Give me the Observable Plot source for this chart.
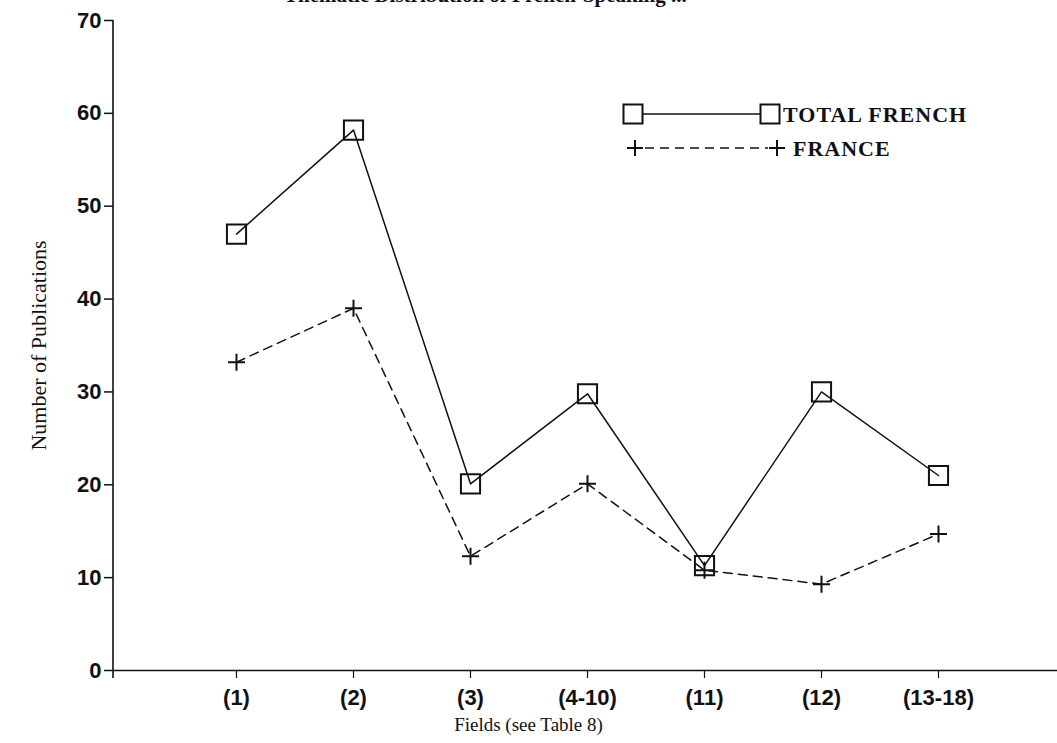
<!DOCTYPE html>
<html>
<head>
<meta charset="utf-8">
<script src="https://cdn.jsdelivr.net/npm/d3@7"></script>
<script src="https://cdn.jsdelivr.net/npm/@observablehq/plot@0.6"></script>
<style>
  html, body { margin: 0; padding: 0; background: #fff; }
  #wrap { position: relative; width: 1057px; height: 743px; overflow: hidden; background: #fff; }
  #title { position: absolute; top: -17px; left: 284px; font: bold 21px "Liberation Serif", serif; color: #111; white-space: nowrap; }
  #legend { position: absolute; left: 0; top: 0; pointer-events: none; }
</style>
</head>
<body>
<div id="wrap">
  <div id="chart"></div>
  <div id="title">Thematic Distribution of French-Speaking ...</div>
</div>
<script>
const categories = ["(1)", "(2)", "(3)", "(4-10)", "(11)", "(12)", "(13-18)"];
const totalFrench = [47, 58.2, 20.1, 29.8, 11.3, 30, 21];
const france = [33.2, 39, 12.3, 20.1, 10.8, 9.3, 14.7];
const yTicks = [0, 10, 20, 30, 40, 50, 60, 70];
const seriesNames = ["TOTAL FRENCH", "FRANCE"];
const xLabel = "Fields (see Table 8)";
const yLabel = "Number of Publications";

const data = categories.map((c, i) => ({field: c, total: totalFrench[i], france: france[i]}));

const thinPlus = {
  draw(ctx, size) {
    const r = Math.sqrt(size / Math.PI);
    ctx.moveTo(-r, 0); ctx.lineTo(r, 0);
    ctx.moveTo(0, -r); ctx.lineTo(0, r);
  }
};

const sansBold = "Liberation Sans, Arial, sans-serif";
const serif = "Liberation Serif, Times New Roman, serif";

const plot = Plot.plot({
  width: 1057,
  height: 743,
  marginTop: 20,
  marginBottom: 73,
  marginLeft: 113,
  marginRight: 0,
  style: {background: "#fff", color: "#111"},
  x: {type: "point", domain: categories, padding: 1, insetLeft: 4},
  y: {domain: [0, 70]},
  marks: [
    Plot.ruleY([0], {stroke: "#111", strokeWidth: 1.6}),
    Plot.axisY({ticks: yTicks, tickSize: 9, tickPadding: 3, tickFormat: d => String(d), label: null,
      fontSize: 22, fontWeight: "bold", fontFamily: sansBold, strokeWidth: 1.5, style: {letterSpacing: "1px"}}),
    Plot.axisX({tickSize: 8, tickPadding: 11, label: null, fontSize: 22, fontWeight: "bold", fontFamily: sansBold, strokeWidth: 1.2}),
    Plot.lineY(data, {x: "field", y: "total", stroke: "#111", strokeWidth: 1.5}),
    Plot.dot(data, {x: "field", y: "total", symbol: "square", r: 10.8, stroke: "#111", strokeWidth: 2, fill: "none"}),
    Plot.lineY(data, {x: "field", y: "france", stroke: "#111", strokeWidth: 1.5, strokeDasharray: "9,6"}),
    Plot.dot(data, {x: "field", y: "france", symbol: thinPlus, r: 8.5, stroke: "#111", strokeWidth: 2, fill: "none"}),
    Plot.text([xLabel], {frameAnchor: "bottom", dx: -57, dy: 60, fontSize: 19, fontFamily: serif, fill: "#111"}),
    Plot.text([yLabel], {frameAnchor: "left", textAnchor: "middle", dx: -75, rotate: -90, fontSize: 22, fontFamily: serif, fill: "#111"})
  ]
});
document.getElementById("chart").appendChild(plot);

// y-axis line at the frame's left edge, from the y scale
const ys = plot.scale("y");
const svg = d3.select(plot);
svg.append("line")
  .attr("x1", 113).attr("x2", 113)
  .attr("y1", ys.apply(0) + 8).attr("y2", ys.apply(70))
  .attr("stroke", "#111").attr("stroke-width", 1.6);

// legend overlay
const lg = d3.select("#wrap").append("svg")
  .attr("id", "legend").attr("width", 1057).attr("height", 743);
const row1 = 114, row2 = 148;
lg.append("line").attr("x1", 643).attr("x2", 760).attr("y1", row1).attr("y2", row1)
  .attr("stroke", "#111").attr("stroke-width", 1.5);
[633, 770].forEach(cx => lg.append("rect").attr("x", cx - 9.5).attr("y", row1 - 9.5)
  .attr("width", 19).attr("height", 19).attr("fill", "none").attr("stroke", "#111").attr("stroke-width", 2));
lg.append("text").attr("x", 783).attr("y", row1 + 8).text(seriesNames[0])
  .attr("font-family", serif).attr("font-weight", "bold").attr("font-size", 22)
  .attr("letter-spacing", "1px").attr("fill", "#111");
lg.append("line").attr("x1", 645).attr("x2", 768).attr("y1", row2).attr("y2", row2)
  .attr("stroke", "#111").attr("stroke-width", 1.5).attr("stroke-dasharray", "9,6");
[635, 777].forEach(cx => {
  lg.append("path").attr("d", `M${cx - 8},${row2}H${cx + 8}M${cx},${row2 - 8}V${row2 + 8}`)
    .attr("stroke", "#111").attr("stroke-width", 2).attr("fill", "none");
});
lg.append("text").attr("x", 793).attr("y", row2 + 8).text(seriesNames[1])
  .attr("font-family", serif).attr("font-weight", "bold").attr("font-size", 22)
  .attr("letter-spacing", "1px").attr("fill", "#111");
</script>
</body>
</html>
